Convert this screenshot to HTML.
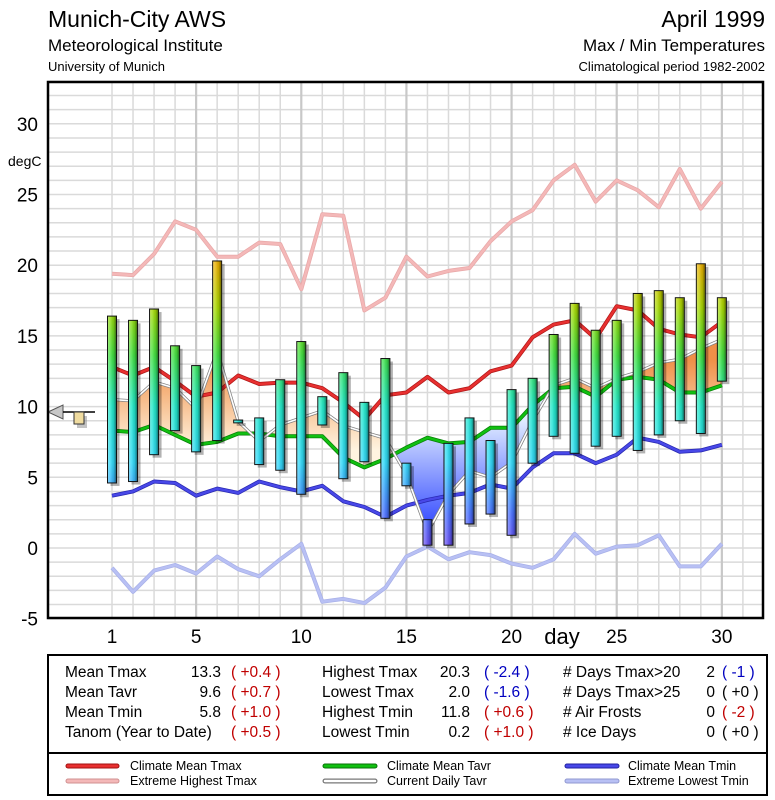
<!DOCTYPE html>
<html><head><meta charset="utf-8"><style>
body{margin:0;background:#fff;}
svg{display:block;font-family:"Liberation Sans",sans-serif;}
.n{font-family:"Liberation Sans Narrow","Liberation Sans",sans-serif;}
</style></head><body>
<svg id="chart" width="775" height="800" viewBox="0 0 775 800" xmlns="http://www.w3.org/2000/svg">
<defs>
<linearGradient id="barGrad" gradientUnits="userSpaceOnUse" x1="0" y1="548" x2="0" y2="265">
<stop offset="0" stop-color="#6a4cf0"/>
<stop offset="0.12" stop-color="#4a70ff"/>
<stop offset="0.3" stop-color="#30d8f8"/>
<stop offset="0.5" stop-color="#20e8c8"/>
<stop offset="0.68" stop-color="#40e040"/>
<stop offset="0.85" stop-color="#a8d800"/>
<stop offset="1" stop-color="#e8b000"/>
</linearGradient>
<linearGradient id="shade" x1="0" y1="0" x2="1" y2="0">
<stop offset="0" stop-color="#fff" stop-opacity="0.35"/>
<stop offset="0.35" stop-color="#fff" stop-opacity="0.15"/>
<stop offset="0.7" stop-color="#000" stop-opacity="0.1"/>
<stop offset="1" stop-color="#000" stop-opacity="0.45"/>
</linearGradient>
<linearGradient id="orangeGrad" gradientUnits="userSpaceOnUse" x1="0" y1="360" x2="0" y2="450">
<stop offset="0" stop-color="#f09048"/>
<stop offset="1" stop-color="#fff4e0"/>
</linearGradient>
<linearGradient id="blueGrad" gradientUnits="userSpaceOnUse" x1="0" y1="420" x2="0" y2="545">
<stop offset="0" stop-color="#e0ecff"/>
<stop offset="1" stop-color="#1830ff"/>
</linearGradient>
<clipPath id="aboveGreen"><path id="clipA"/></clipPath>
<clipPath id="belowGreen"><path id="clipB"/></clipPath>
</defs>

<text x="48" y="27" font-size="23">Munich-City AWS</text>
<text x="48" y="51" font-size="17">Meteorological Institute</text>
<text x="48" y="71" font-size="13">University of Munich</text>
<text x="765" y="27" font-size="23" text-anchor="end">April 1999</text>
<text x="765" y="51" font-size="17" text-anchor="end">Max / Min Temperatures</text>
<text x="765" y="71" font-size="13" text-anchor="end">Climatological period 1982-2002</text>

<g id="grid"></g>
<g id="fills"></g>
<g id="lines"></g>
<g id="bars"></g>
<g id="axes"></g>

<g>
<polygon points="48,412 63,405 63,419" fill="#c8c8c8" stroke="#555" stroke-width="1"/>
<line x1="63" y1="412" x2="95" y2="412" stroke="#000" stroke-width="1.5"/>
<rect x="77" y="416" width="10" height="12" fill="#888" opacity="0.5"/>
<rect x="74" y="412" width="10" height="12" fill="#f0dca0" stroke="#333" stroke-width="1"/>
</g>

<rect x="48" y="82" width="715" height="536" fill="none" stroke="#000" stroke-width="2.5"/>
<text x="8" y="166" font-size="14">degC</text>
<text x="562" y="644" font-size="22" text-anchor="middle">day</text>

<g class="n" font-size="15.5">
<rect x="48" y="655" width="719" height="140" fill="#fff" stroke="#000" stroke-width="2"/>
<line x1="48" y1="753" x2="767" y2="753" stroke="#000" stroke-width="2"/>
<g>
<text x="65" y="677">Mean Tmax</text><text x="221" y="677" text-anchor="end">13.3</text><text x="231" y="677" fill="#c00000">( +0.4 )</text>
<text x="65" y="697">Mean Tavr</text><text x="221" y="697" text-anchor="end">9.6</text><text x="231" y="697" fill="#c00000">( +0.7 )</text>
<text x="65" y="717">Mean Tmin</text><text x="221" y="717" text-anchor="end">5.8</text><text x="231" y="717" fill="#c00000">( +1.0 )</text>
<text x="65" y="737">Tanom (Year to Date)</text><text x="231" y="737" fill="#c00000">( +0.5 )</text>
<text x="322" y="677">Highest Tmax</text><text x="470" y="677" text-anchor="end">20.3</text><text x="484" y="677" fill="#0000c0">( -2.4 )</text>
<text x="322" y="697">Lowest Tmax</text><text x="470" y="697" text-anchor="end">2.0</text><text x="484" y="697" fill="#0000c0">( -1.6 )</text>
<text x="322" y="717">Highest Tmin</text><text x="470" y="717" text-anchor="end">11.8</text><text x="484" y="717" fill="#c00000">( +0.6 )</text>
<text x="322" y="737">Lowest Tmin</text><text x="470" y="737" text-anchor="end">0.2</text><text x="484" y="737" fill="#c00000">( +1.0 )</text>
<text x="563" y="677"># Days Tmax&gt;20</text><text x="715" y="677" text-anchor="end">2</text><text x="722" y="677" fill="#0000c0">( -1 )</text>
<text x="563" y="697"># Days Tmax&gt;25</text><text x="715" y="697" text-anchor="end">0</text><text x="722" y="697">( +0 )</text>
<text x="563" y="717"># Air Frosts</text><text x="715" y="717" text-anchor="end">0</text><text x="722" y="717" fill="#c00000">( -2 )</text>
<text x="563" y="737"># Ice Days</text><text x="715" y="737" text-anchor="end">0</text><text x="722" y="737">( +0 )</text>
</g>
</g>

<g class="n" font-size="12.5">
<g><line x1="68" y1="766" x2="117" y2="766" stroke="#a01010" stroke-width="5" stroke-linecap="round"/><line x1="68" y1="766" x2="117" y2="766" stroke="#e83030" stroke-width="3" stroke-linecap="round"/><text x="130" y="770">Climate Mean Tmax</text></g>
<g><line x1="68" y1="781" x2="117" y2="781" stroke="#d09090" stroke-width="5" stroke-linecap="round"/><line x1="68" y1="781" x2="117" y2="781" stroke="#f4b8b8" stroke-width="3" stroke-linecap="round"/><text x="130" y="785">Extreme Highest Tmax</text></g>
<g><line x1="325" y1="766" x2="375" y2="766" stroke="#087008" stroke-width="5" stroke-linecap="round"/><line x1="325" y1="766" x2="375" y2="766" stroke="#10c010" stroke-width="3" stroke-linecap="round"/><text x="387" y="770">Climate Mean Tavr</text></g>
<g><line x1="325" y1="781" x2="375" y2="781" stroke="#777" stroke-width="5" stroke-linecap="round"/><line x1="325" y1="781" x2="375" y2="781" stroke="#fff" stroke-width="2.5" stroke-linecap="round"/><text x="387" y="785">Current Daily Tavr</text></g>
<g><line x1="567" y1="766" x2="617" y2="766" stroke="#2020a0" stroke-width="5" stroke-linecap="round"/><line x1="567" y1="766" x2="617" y2="766" stroke="#4848e8" stroke-width="3" stroke-linecap="round"/><text x="628" y="770">Climate Mean Tmin</text></g>
<g><line x1="567" y1="781" x2="617" y2="781" stroke="#9098d0" stroke-width="5" stroke-linecap="round"/><line x1="567" y1="781" x2="617" y2="781" stroke="#b8c0f4" stroke-width="3" stroke-linecap="round"/><text x="628" y="785">Extreme Lowest Tmin</text></g>
</g>
</svg>
<script>
const days=[1,2,3,4,5,6,7,8,9,10,11,12,13,14,15,16,17,18,19,20,21,22,23,24,25,26,27,28,29,30];
const tmax=[16.4,16.1,16.9,14.3,12.9,20.3,9.05,9.2,11.9,14.6,10.7,12.4,10.3,13.4,6.0,2.0,7.4,9.2,7.6,11.2,12.0,15.1,17.3,15.4,16.1,18.0,18.2,17.7,20.1,17.7];
const tmin=[4.6,4.7,6.6,8.3,6.8,7.6,8.85,5.9,5.5,3.8,8.7,4.9,6.1,2.1,4.4,0.2,0.2,1.7,2.4,0.9,6.0,7.9,6.7,7.2,7.9,6.9,8.0,9.0,8.1,11.8];
const climTmax=[12.8,12.2,12.8,11.8,10.7,11.0,12.2,11.6,11.7,11.7,11.3,10.3,9.1,10.8,11.0,12.1,11.0,11.3,12.5,12.9,14.9,15.8,16.1,14.8,17.1,16.8,15.5,15.1,14.9,16.0];
const climTavr=[8.3,8.2,8.7,8.0,7.3,7.5,8.1,8.1,7.9,7.9,7.9,6.4,5.7,6.3,7.1,7.8,7.4,7.5,8.5,8.5,10.1,11.3,11.4,10.7,11.9,12.1,11.9,11.0,11.0,11.5];
const climTmin=[3.7,4.0,4.7,4.6,3.7,4.2,3.9,4.7,4.3,4.0,4.4,3.3,2.9,2.2,3.0,3.4,3.7,3.9,4.5,4.2,5.7,6.7,6.7,6.0,6.6,7.8,7.5,6.8,6.9,7.3];
const extHigh=[19.4,19.3,20.8,23.1,22.5,20.6,20.6,21.6,21.5,18.3,23.6,23.5,16.8,17.7,20.6,19.2,19.6,19.8,21.7,23.1,23.9,26.0,27.1,24.5,26.0,25.3,24.1,26.8,24.0,25.9];
const extLow=[-1.4,-3.1,-1.6,-1.2,-1.8,-0.6,-1.5,-2.0,-0.8,0.3,-3.8,-3.6,-3.9,-2.8,-0.6,0.1,-0.8,-0.3,-0.5,-1.1,-1.4,-0.8,1.0,-0.4,0.1,0.2,0.9,-1.3,-1.3,0.3];
const yTicks=[-5,0,5,10,15,20,25,30];
const xTicks=[1,5,10,15,20,25,30];

const NS="http://www.w3.org/2000/svg";
const X=d=>112+(d-1)*21.03;
const Y=v=>548-v*14.14;
function mk(tag,attrs,parent){const e=document.createElementNS(NS,tag);for(const k in attrs)e.setAttribute(k,attrs[k]);parent.appendChild(e);return e;}
const grid=document.getElementById('grid'),fills=document.getElementById('fills'),lines=document.getElementById('lines'),bars=document.getElementById('bars'),axes=document.getElementById('axes');

for(let v=-5;v<=33;v++){const l=mk('line',{x1:48,x2:763,y1:Y(v),y2:Y(v),stroke:'#dadada','stroke-width':1.5},grid);

}
for(let d=1;d<=31;d++){const l=mk('line',{x1:X(d),x2:X(d),y1:82,y2:618,stroke:d%5==0?'#c8c8c8':'#dadada','stroke-width':d%5==0?2.2:1.5},grid);

}

yTicks.forEach(v=>{const t=mk('text',{x:38,y:Y(v)+7,'font-size':19,'text-anchor':'end'},axes);t.textContent=v;

});
xTicks.forEach(d=>{const t=mk('text',{x:X(d),y:643,'font-size':19,'text-anchor':'middle'},axes);t.textContent=d;

});

const tavr=days.map((d,i)=>(tmax[i]+tmin[i])/2);
const pts=arr=>arr.map((v,i)=>X(days[i]).toFixed(1)+','+Y(v).toFixed(1));
const gp=pts(climTavr), wp=pts(tavr);
document.getElementById('clipA').setAttribute('d','M'+X(1)+',0 L'+gp.join(' L')+' L'+X(30)+',0 Z');
document.getElementById('clipB').setAttribute('d','M'+X(1)+',800 L'+gp.join(' L')+' L'+X(30)+',800 Z');
const between='M'+wp.join(' L')+' L'+gp.slice().reverse().join(' L')+' Z';
const fa=mk('path',{d:between,fill:'url(#orangeGrad)','clip-path':'url(#aboveGreen)'},fills);


const fb=mk('path',{d:between,fill:'url(#blueGrad)','clip-path':'url(#belowGreen)'},fills);



function series(arr,color,edge,w,name){
 const d='M'+pts(arr).join(' L');
 const e=mk('path',{d:d,fill:'none',stroke:edge,'stroke-width':w+1.5,'stroke-linejoin':'round'},lines);
 
 
 const p=mk('path',{d:d,fill:'none',stroke:color,'stroke-width':w,'stroke-linejoin':'round'},lines);
 
 
}
series(extHigh,'#f4b8b8','#e8a8a8',2.5,'extreme-highest-tmax-line');
series(extLow,'#b8c0f4','#a8b0e8',2.5,'extreme-lowest-tmin-line');
series(climTmax,'#e83030','#b01818',2.5,'climate-mean-tmax-line');
series(climTmin,'#4848e8','#2828b0',2.5,'climate-mean-tmin-line');
series(climTavr,'#10c010','#088008',2.5,'climate-mean-tavr-line');
series(tavr,'#ffffff','#808080',1.6,'current-daily-tavr-line');

days.forEach((d,i)=>{
 const x=X(d)-4.5,y1=Y(tmax[i]),y2=Y(tmin[i]),h=Math.max(y2-y1,2);
 const s=mk('rect',{x:x+3,y:y1+3,width:9,height:h,fill:'#000',opacity:0.3},bars);
 
 
 const b=mk('rect',{x:x,y:y1,width:9,height:h,fill:'url(#barGrad)',stroke:'#111','stroke-width':1},bars);
 
 
 const o=mk('rect',{x:x+0.5,y:y1+0.5,width:8,height:h-1,fill:'url(#shade)'},bars);
 
 
});
</script>
</body></html>
